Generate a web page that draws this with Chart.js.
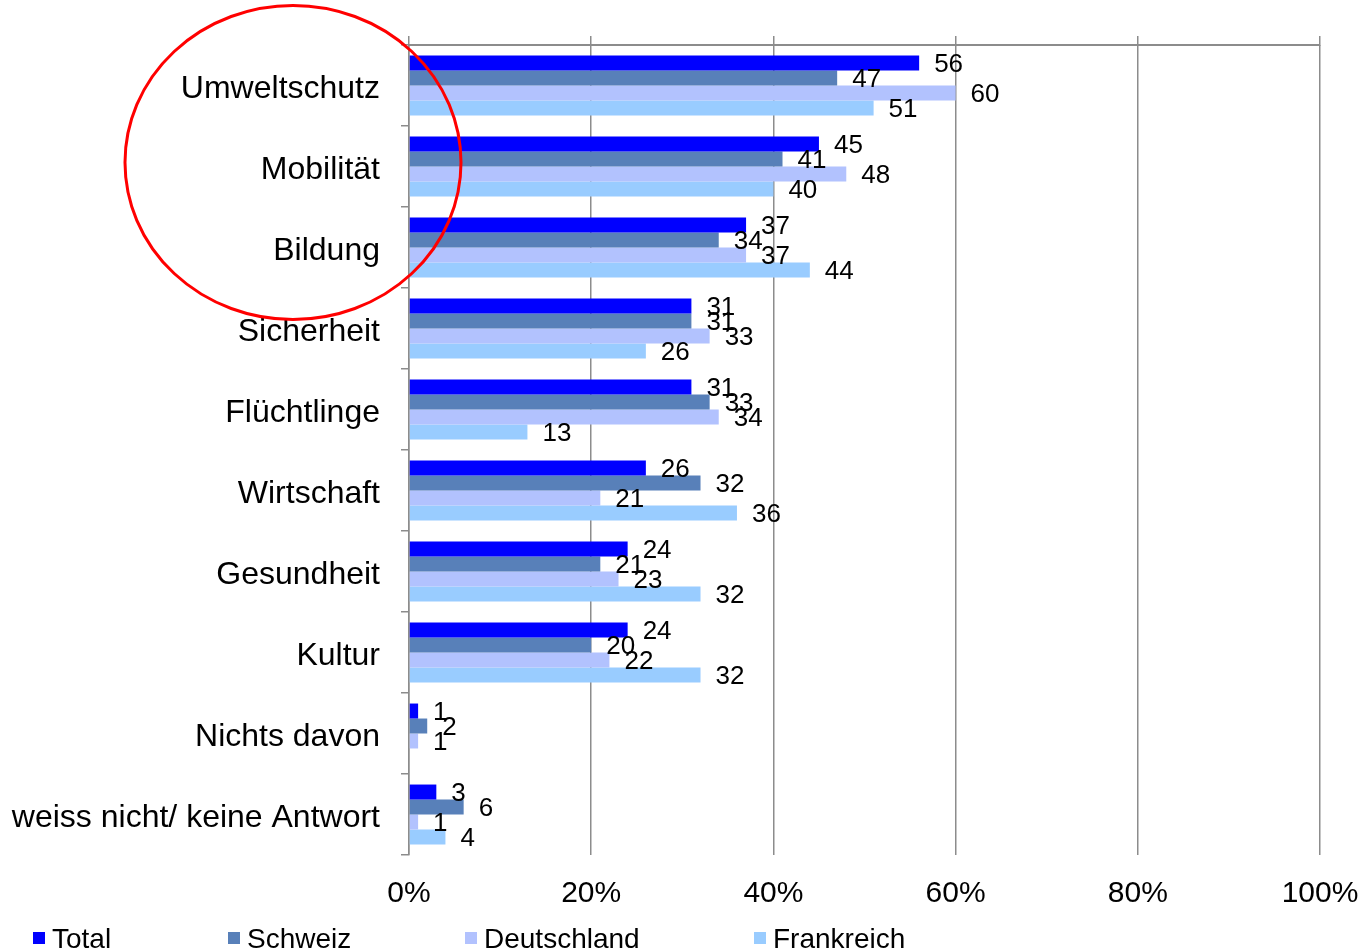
<!DOCTYPE html>
<html>
<head>
<meta charset="utf-8">
<script src="https://cdn.jsdelivr.net/npm/chart.js@4/dist/chart.umd.min.js"></script>
<style>
  html, body { margin: 0; padding: 0; background: #fff; }
  canvas { display: block; }
</style>
</head>
<body>
<canvas id="chart" width="1362" height="951"></canvas>
<script>
var categories = ["Umweltschutz", "Mobilität", "Bildung", "Sicherheit", "Flüchtlinge",
    "Wirtschaft", "Gesundheit", "Kultur", "Nichts davon", "weiss nicht/ keine Antwort"];
var total       = [56, 45, 37, 31, 31, 26, 24, 24, 1, 3];
var schweiz     = [47, 41, 34, 31, 33, 32, 21, 20, 2, 6];
var deutschland = [60, 48, 37, 33, 34, 21, 23, 22, 1, 1];
var frankreich  = [51, 40, 44, 26, 13, 36, 32, 32, null, 4];
var xTicks = [0, 20, 40, 60, 80, 100];

var FONT = "'Liberation Sans', Arial, sans-serif";
var GRID = "#8c8c8c";

// value labels right of each bar
var valueLabels = {
    id: "valueLabels",
    afterDatasetsDraw: function(chart) {
        var ctx = chart.ctx;
        ctx.save();
        ctx.font = "26px " + FONT;
        ctx.fillStyle = "#000";
        ctx.textBaseline = "middle";
        ctx.textAlign = "left";
        chart.data.datasets.forEach(function(ds, i) {
            chart.getDatasetMeta(i).data.forEach(function(bar, j) {
                if (ds.data[j] == null) return;
                ctx.fillText(String(ds.data[j]), bar.x + 15, bar.y + 2);
            });
        });
        ctx.restore();
    }
};

// legend row at the bottom, partly cut off like the source
var bottomLegend = {
    id: "bottomLegend",
    afterDraw: function(chart) {
        var ctx = chart.ctx;
        var xs = [33, 228, 465, 754];
        ctx.save();
        ctx.font = "28px " + FONT;
        ctx.textBaseline = "middle";
        ctx.textAlign = "left";
        chart.data.datasets.forEach(function(ds, i) {
            ctx.fillStyle = ds.backgroundColor;
            ctx.fillRect(xs[i], 932, 12, 12);
            ctx.fillStyle = "#000";
            ctx.fillText(ds.label, xs[i] + 19, 940);
        });
        ctx.restore();
    }
};

// red circle around the top three categories
var redCircle = {
    id: "redCircle",
    afterDraw: function(chart) {
        var ctx = chart.ctx;
        var y = chart.scales.y.getPixelForValue(1);
        ctx.save();
        ctx.strokeStyle = "#ff0000";
        ctx.lineWidth = 3;
        ctx.beginPath();
        ctx.ellipse(chart.chartArea.left - 116, y - 4, 168, 157, 0, 0, Math.PI * 2);
        ctx.stroke();
        ctx.restore();
    }
};

function fixedTicks(scale) {
    scale.ticks = xTicks.map(function(v) { return { value: v }; });
}

var config = {
    type: "bar",
    data: {
        labels: categories,
        datasets: [
            { label: "Total", data: total, backgroundColor: "#0000ff" },
            { label: "Schweiz", data: schweiz, backgroundColor: "#5880b9" },
            { label: "Deutschland", data: deutschland, backgroundColor: "#b2c2fe" },
            { label: "Frankreich", data: frankreich, backgroundColor: "#99ccff" }
        ]
    },
    options: {
        indexAxis: "y",
        responsive: false,
        animation: false,
        devicePixelRatio: 1,
        categoryPercentage: 0.74,
        barPercentage: 1.0,
        layout: { padding: { top: 36, right: 42, left: 0, bottom: 0 } },
        plugins: {
            legend: { display: false },
            tooltip: { enabled: false }
        },
        scales: {
            x: {
                position: "bottom",
                min: 0,
                max: 100,
                afterBuildTicks: fixedTicks,
                afterFit: function(scale) {
                    scale.height = 96;
                    scale.paddingLeft = 0;
                    scale.paddingRight = 0;
                },
                grid: { color: GRID, lineWidth: 1.5, drawTicks: false },
                border: { display: false },
                ticks: {
                    padding: 21,
                    color: "#000",
                    font: { family: FONT, size: 30 },
                    callback: function(v) { return v + "%"; }
                }
            },
            x2: {
                type: "linear",
                position: "top",
                min: 0,
                max: 100,
                afterBuildTicks: fixedTicks,
                afterFit: function(scale) {
                    scale.height = 9;
                    scale.paddingLeft = 0;
                    scale.paddingRight = 0;
                },
                grid: { drawOnChartArea: false, color: GRID, lineWidth: 1.5, tickLength: 9 },
                border: { display: true, color: GRID, width: 2 },
                ticks: { display: false }
            },
            y: {
                afterFit: function(scale) {
                    scale.width = 409;
                    scale.paddingTop = 0;
                    scale.paddingBottom = 0;
                },
                grid: { drawOnChartArea: false, color: GRID, lineWidth: 1.5, tickLength: 8 },
                border: { display: true, color: GRID, width: 1.5 },
                ticks: {
                    padding: 21,
                    labelOffset: 4,
                    color: "#000",
                    font: { family: FONT, size: 32 }
                }
            }
        }
    },
    plugins: [valueLabels, bottomLegend, redCircle]
};

var myChart = new Chart(document.getElementById("chart"), config);
</script>
</body>
</html>
